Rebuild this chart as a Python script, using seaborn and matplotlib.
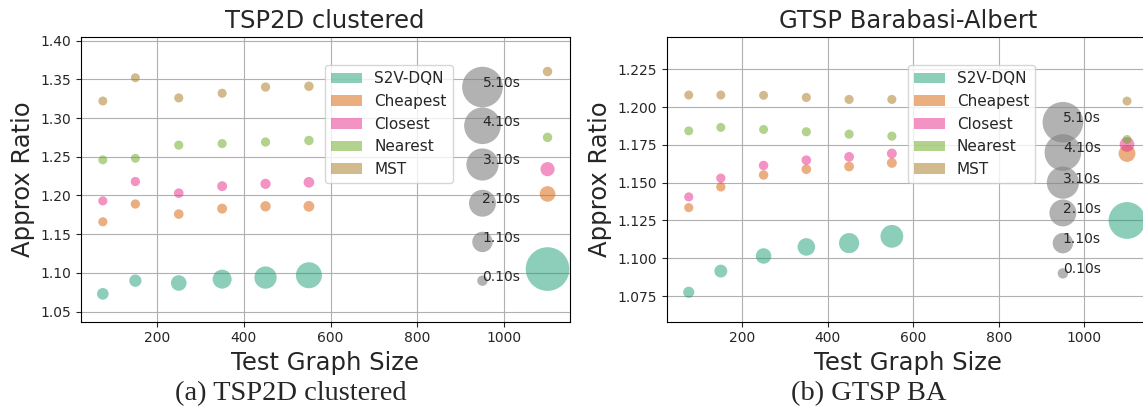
import pandas as pd
import seaborn as sns
import matplotlib.pyplot as plt
from matplotlib.patches import Patch

# graph sizes used for testing
sizes = [75, 150, 250, 350, 450, 550, 1100]
methods = ["S2V-DQN", "Cheapest", "Closest", "Nearest", "MST"]

# TSP2D clustered: approx ratio per method
tsp_s2v = [1.073, 1.090, 1.087, 1.092, 1.094, 1.097, 1.105]
tsp_cheapest = [1.166, 1.189, 1.176, 1.183, 1.186, 1.186, 1.202]
tsp_closest = [1.193, 1.218, 1.203, 1.212, 1.215, 1.217, 1.234]
tsp_nearest = [1.246, 1.248, 1.265, 1.267, 1.269, 1.271, 1.275]
tsp_mst = [1.322, 1.352, 1.326, 1.332, 1.340, 1.341, 1.360]

# TSP2D clustered: running time (s)
tsp_s2v_t = [0.19, 0.24, 0.54, 0.92, 1.36, 1.94, 5.92]
tsp_cheapest_t = [0.02, 0.03, 0.05, 0.07, 0.10, 0.13, 0.54]
tsp_closest_t = [0.02, 0.03, 0.05, 0.07, 0.09, 0.12, 0.40]
tsp_nearest_t = [0.01, 0.01, 0.02, 0.02, 0.03, 0.04, 0.04]
tsp_mst_t = [0.01, 0.01, 0.02, 0.02, 0.03, 0.04, 0.04]

# GTSP Barabasi-Albert: approx ratio per method
ba_s2v = [1.0775, 1.0915, 1.1015, 1.1075, 1.1100, 1.1145, 1.1250]
ba_cheapest = [1.1335, 1.1472, 1.1551, 1.1589, 1.1607, 1.1631, 1.1693]
ba_closest = [1.1406, 1.1530, 1.1614, 1.1649, 1.1671, 1.1693, 1.1753]
ba_nearest = [1.1843, 1.1866, 1.1852, 1.1837, 1.1821, 1.1808, 1.1786]
ba_mst = [1.2080, 1.2080, 1.2078, 1.2064, 1.2051, 1.2051, 1.2040]

# GTSP Barabasi-Albert: running time (s)
ba_s2v_t = [0.15, 0.29, 0.53, 0.75, 1.07, 1.43, 4.14]
ba_cheapest_t = [0.02, 0.03, 0.04, 0.05, 0.06, 0.07, 0.67]
ba_closest_t = [0.02, 0.03, 0.04, 0.05, 0.06, 0.07, 0.45]
ba_nearest_t = [0.01, 0.01, 0.01, 0.02, 0.02, 0.02, 0.01]
ba_mst_t = [0.01, 0.01, 0.01, 0.02, 0.02, 0.02, 0.01]

# bubble-size key
key_times = [0.1, 1.1, 2.1, 3.1, 4.1, 5.1]
key_x = 950
tsp_key_y = [1.09, 1.14, 1.19, 1.24, 1.29, 1.34]
ba_key_y = [1.09, 1.11, 1.13, 1.15, 1.17, 1.19]


def area(t):
    return 160 * t + 40


def build_df(ratios, times):
    rows = []
    for m, r, t in zip(methods, ratios, times):
        for n, v, tt in zip(sizes, r, t):
            rows.append({"size": n, "ratio": v, "time": tt, "method": m})
    return pd.DataFrame(rows)


def plot_panel(ax, df, key_y, title, ylim):
    dark2 = sns.color_palette("Dark2", 8)
    pal = dict(zip(methods, [dark2[i] for i in (0, 1, 3, 4, 6)]))
    sns.scatterplot(data=df, x="size", y="ratio", hue="method", palette=pal,
                    s=area(df["time"]).values, alpha=0.5, linewidth=0,
                    legend=False, ax=ax, zorder=3)
    sns.scatterplot(x=[key_x] * len(key_y), y=key_y,
                    s=[area(t) for t in key_times], color="gray",
                    alpha=0.6, linewidth=0, legend=False, ax=ax, zorder=3)
    for t, y in zip(key_times, key_y):
        ax.text(key_x, y, "%.2fs" % t, fontsize=10, zorder=4)
    ax.set_xlim(24, 1151)
    ax.set_ylim(*ylim)
    ax.set_title(title, fontsize=17.5)
    ax.set_xlabel("Test Graph Size", fontsize=17.5)
    ax.set_ylabel("Approx Ratio", fontsize=17.5)
    ax.tick_params(labelsize=10)
    handles = [Patch(color=pal[m], alpha=0.5, linewidth=0) for m in methods]
    ax.legend(handles, methods, loc="upper left", bbox_to_anchor=(0.5, 0.9),
              borderaxespad=0, fontsize=11)


sns.set_style("ticks", {"axes.grid": True, "grid.color": "#b0b0b0",
                        "axes.edgecolor": "black"})
plt.rcParams["font.family"] = "DejaVu Sans"

fig = plt.figure(figsize=(11.43, 4.2), dpi=100)
ax1 = fig.add_axes([0.0706, 0.234, 0.4278, 0.6786])
ax2 = fig.add_axes([0.5835, 0.234, 0.4216, 0.6786])

tsp_df = build_df([tsp_s2v, tsp_cheapest, tsp_closest, tsp_nearest, tsp_mst],
                  [tsp_s2v_t, tsp_cheapest_t, tsp_closest_t, tsp_nearest_t, tsp_mst_t])
ba_df = build_df([ba_s2v, ba_cheapest, ba_closest, ba_nearest, ba_mst],
                 [ba_s2v_t, ba_cheapest_t, ba_closest_t, ba_nearest_t, ba_mst_t])

plot_panel(ax1, tsp_df, tsp_key_y, "TSP2D clustered", (1.037, 1.405))
plot_panel(ax2, ba_df, ba_key_y, "GTSP Barabasi-Albert", (1.058, 1.2466))

fig.text(0.254, 0.064, "(a) TSP2D clustered", ha="center", va="center",
         family="Liberation Serif", fontsize=20.5)
fig.text(0.760, 0.064, "(b) GTSP BA", ha="center", va="center",
         family="Liberation Serif", fontsize=20.5)

fig.savefig("out.png", dpi=100)
